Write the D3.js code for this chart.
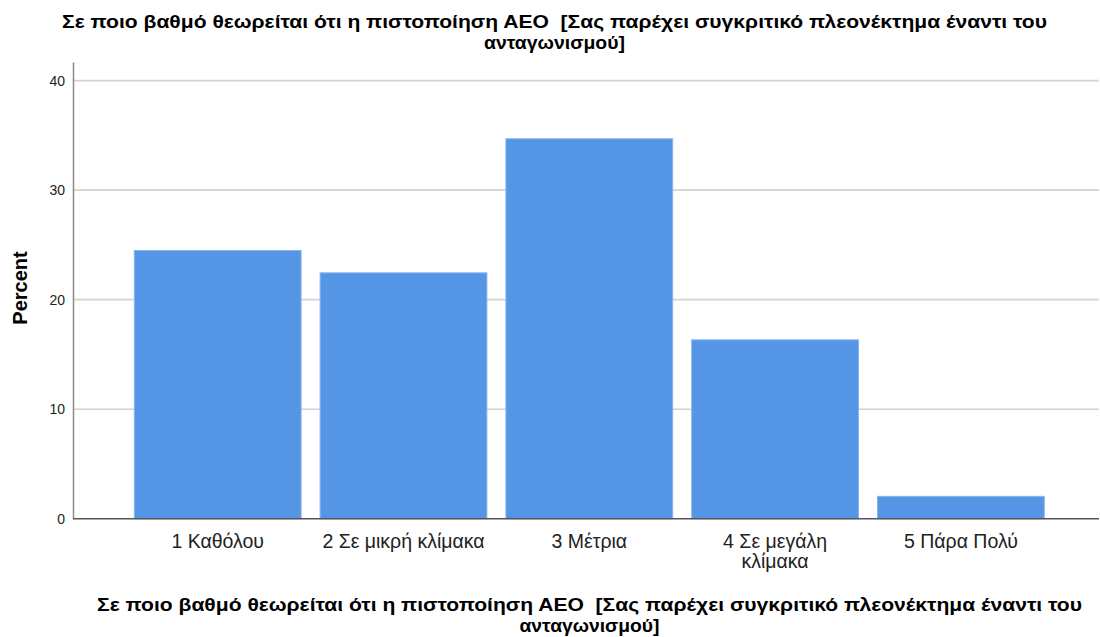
<!DOCTYPE html>
<html>
<head>
<meta charset="utf-8">
<script src="https://cdn.jsdelivr.net/npm/d3@7"></script>
<style>
  body { margin: 0; background: #fff; }
  svg { display: block; font-family: "Liberation Sans", Arial, sans-serif; }
</style>
</head>
<body>
<svg id="chart" width="1100" height="637"></svg>
<script>
const categories = ["1 Καθόλου", "2 Σε μικρή κλίμακα", "3 Μέτρια", "4 Σε μεγάλη κλίμακα", "5 Πάρα Πολύ"];
const categoryLines = [["1 Καθόλου"], ["2 Σε μικρή κλίμακα"], ["3 Μέτρια"], ["4 Σε μεγάλη", "κλίμακα"], ["5 Πάρα Πολύ"]];
const percentValues = [24.49, 22.45, 34.69, 16.33, 2.04];
const yTicks = [0, 10, 20, 30, 40];
const titleLines = ["Σε ποιο βαθμό θεωρείται ότι η πιστοποίηση ΑΕΟ  [Σας παρέχει συγκριτικό πλεονέκτημα έναντι του", "ανταγωνισμού]"];
const xTitleLines = ["Σε ποιο βαθμό θεωρείται ότι η πιστοποίηση ΑΕΟ  [Σας παρέχει συγκριτικό πλεονέκτημα έναντι του", "ανταγωνισμού]"];
const yTitle = "Percent";

const svg = d3.select("#chart");
const axisX0 = 73, axisX1 = 1099;

const y = d3.scaleLinear().domain([0, 41.7]).range([518.7, 62]);
const x = d3.scaleBand().domain(categories).range([124.8, 1053.8]).paddingInner(0.1023).paddingOuter(0.0512);

// gridlines
svg.append("g").selectAll("line").data(yTicks.filter(d => d > 0)).join("line")
  .attr("x1", axisX0).attr("x2", axisX1)
  .attr("y1", d => y(d)).attr("y2", d => y(d))
  .attr("stroke", "#d2d2d2").attr("stroke-width", 1.6);

// bars
svg.append("g").selectAll("rect").data(percentValues).join("rect")
  .attr("x", (d, i) => x(categories[i]))
  .attr("width", x.bandwidth())
  .attr("y", d => y(d))
  .attr("height", d => y(0) - y(d))
  .attr("fill", "#5595e5")
  .attr("stroke", "#86b4ee").attr("stroke-width", 1);

// y axis
const yAxis = svg.append("g").attr("transform", `translate(${axisX0},0)`)
  .call(d3.axisLeft(y).tickValues(yTicks).tickSize(0).tickPadding(8));
yAxis.select(".domain").attr("stroke", "#8a8a8a").attr("stroke-width", 1.5);
yAxis.selectAll(".tick text").attr("font-size", 14).attr("fill", "#222")
  .attr("font-family", "'Liberation Sans', Arial, sans-serif");

// x axis baseline
svg.append("line").attr("x1", axisX0).attr("x2", axisX1)
  .attr("y1", y(0)).attr("y2", y(0))
  .attr("stroke", "#555").attr("stroke-width", 1.5);

// x tick labels
const xl = svg.append("g").selectAll("text").data(categories).join("text")
  .attr("x", d => x(d) + x.bandwidth() / 2)
  .attr("y", 548)
  .attr("text-anchor", "middle")
  .attr("font-size", 19.5)
  .attr("fill", "#222");
xl.each(function(d, i) {
  const t = d3.select(this);
  categoryLines[i].forEach((ln, j) => {
    t.append("tspan").attr("x", x(d) + x.bandwidth() / 2).attr("dy", j === 0 ? 0 : 20).text(ln);
  });
});

// titles
function titleBlock(lines, cx, y0, widths) {
  lines.forEach((ln, j) => {
    svg.append("text")
      .attr("x", cx).attr("y", y0 + j * 21)
      .attr("text-anchor", "middle")
      .style("white-space", "pre")
      .attr("font-size", 19).attr("font-weight", "bold").attr("fill", "#000")
      .attr("textLength", widths[j]).attr("lengthAdjust", "spacingAndGlyphs")
      .text(ln);
  });
}
titleBlock(titleLines, 554.5, 28, [985, 141]);
titleBlock(xTitleLines, 589.5, 611, [985, 140]);

// y title
svg.append("text")
  .attr("transform", "translate(27,288) rotate(-90)")
  .attr("text-anchor", "middle")
  .attr("font-size", 20).attr("font-weight", "bold").attr("fill", "#000")
  .text(yTitle);
</script>
</body>
</html>
